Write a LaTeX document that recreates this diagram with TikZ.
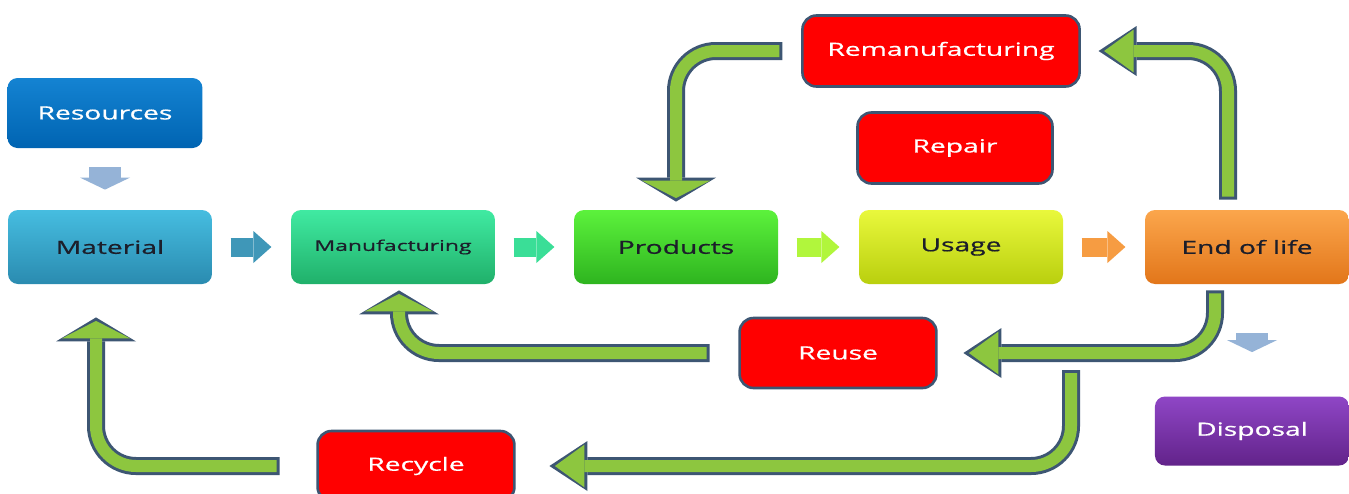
\documentclass[tikz,border=0pt]{standalone}
\usepackage{fontspec}
\setmainfont{Open Sans}[FakeBold=0.6]
\usepackage{tikz}
\usetikzlibrary{arrows.meta}
\usetikzlibrary{positioning,calc}

\definecolor{resourcetop}{HTML}{1483D2}
\definecolor{resourcebot}{HTML}{0064B2}
\definecolor{materialtop}{HTML}{46BDE0}
\definecolor{materialbot}{HTML}{2A8BB0}
\definecolor{manutop}{HTML}{40EAA2}
\definecolor{manubot}{HTML}{20B06A}
\definecolor{prodtop}{HTML}{5CF23C}
\definecolor{prodbot}{HTML}{2EB41F}
\definecolor{usagetop}{HTML}{E9F83C}
\definecolor{usagebot}{HTML}{B9CF0E}
\definecolor{eoltop}{HTML}{FBA64C}
\definecolor{eolbot}{HTML}{E2761A}
\definecolor{disptop}{HTML}{8F46C6}
\definecolor{dispbot}{HTML}{62238A}
\definecolor{loopgreen}{HTML}{8DC63F}
\definecolor{loopedge}{HTML}{3D5673}
\definecolor{dropblue}{HTML}{95B3D7}
\definecolor{labeldark}{HTML}{1C1E2A}

\begin{document}
\begin{tikzpicture}[x=0.5pt, y=-0.5pt,
    stage/.style={rectangle, rounded corners=5pt, xscale=1.55, inner sep=0pt,
      minimum width=65.8pt, minimum height=37pt, text=labeldark,
      font=\fontsize{9.1}{11}\selectfont},
    option/.style={rectangle, rounded corners=7pt, xscale=1.55, inner sep=0pt,
      draw=loopedge, line width=1.3pt, fill=red, text=white,
      minimum width=62.9pt, minimum height=35pt,
      font=\fontsize{9.1}{11}\selectfont},
    flowarrow/.style={line width=9.5pt, shorten <=9pt, shorten >=9.5pt,
      -{Triangle[width=16pt, length=9pt, line width=0pt]}},
    droparrow/.style={draw=dropblue, line width=16pt,
      -{Triangle[width=25pt, length=6pt, line width=0pt]}},
    looparrow/.style={draw=loopgreen, line width=6pt, rounded corners=20pt,
      shorten <=1.5pt},
    loopv/.style={looparrow,
      preaction={draw=loopedge, line width=9pt, shorten <=0pt, shorten >=0pt,
        -{Triangle[width=40pt, length=12pt, line width=0pt]}},
      shorten >=1.75pt, -{Triangle[width=34.2pt, length=8.75pt, line width=0pt]}},
    looph/.style={looparrow,
      preaction={draw=loopedge, line width=9pt, shorten <=0pt, shorten >=0pt,
        -{Triangle[width=25pt, length=19pt, line width=0pt]}},
      shorten >=2.73pt, -{Triangle[width=21.4pt, length=14.77pt, line width=0pt]}}]

  \path[use as bounding box, fill=white] (0,0) rectangle (1349,493);

  % Define nodes
  \node[stage, top color=resourcetop, bottom color=resourcebot, text=white,
    minimum width=62.9pt, minimum height=35pt] (res) at (105,113) {Resources};

  \node[stage, top color=materialtop, bottom color=materialbot] (mat) at (110,247) {Material};
  \node[stage, top color=manutop, bottom color=manubot,
    font=\fontsize{7.4}{9}\selectfont] (manu) at (393,247) {Manufacturing};
  \node[stage, top color=prodtop, bottom color=prodbot] (prod) at (676,247) {Products};
  \node[stage, top color=usagetop, bottom color=usagebot] (usage) at (961,247) {Usage};
  \node[stage, top color=eoltop, bottom color=eolbot] (eol) at (1247,247) {End of life};

  \node[option, minimum width=89.4pt, minimum height=35.5pt] (reman) at (941,51) {Remanufacturing};
  \node[option, minimum height=35.5pt] (repair) at (955,148) {Repair};
  \node[option, minimum width=63.5pt] (reuse) at (838,353) {Reuse};
  \node[option, minimum width=63.5pt] (recycle) at (416,466) {Recycle};

  \node[stage, top color=disptop, bottom color=dispbot, text=white,
    minimum width=62.6pt, minimum height=34.5pt] (disp) at (1252,431) {Disposal};

  \coordinate (split) at (1071,370);

  % main flow
  \draw[droparrow, shorten <=9.5pt, shorten >=10pt] (res.south) -- (res.south |- mat.north);
  \draw[flowarrow, draw=materialbot!90!white] (mat.east) -- (manu.west);
  \draw[flowarrow, draw=manutop!80!manubot] (manu.east) -- (prod.west);
  \draw[flowarrow, draw=prodtop!40!usagetop] (prod.east) -- (usage.west);
  \draw[flowarrow, draw=eoltop!80!eolbot] (usage.east) -- (eol.west);
  \draw[droparrow, shorten <=24.5pt, shorten >=22pt] (disp.north |- eol.south) -- (disp.north);

  % loops back
  \draw[loopv] ([xshift=-9pt]reman.west) -| ([yshift=4pt]prod.north);
  \draw[looph] ([xshift=-9.5pt, yshift=5pt]eol.north) |- ([xshift=8.5pt]reman.east);
  \draw[looph] ([xshift=-16pt, yshift=-3pt]eol.south) |- ([xshift=12.5pt]reuse.east);
  \draw[looph] (split) |- ([xshift=16.5pt]recycle.east);
  \draw[loopv] ([xshift=-14pt]reuse.west) -| ([xshift=3pt, yshift=-3pt]manu.south);
  \draw[loopv] ([xshift=-18pt]recycle.west) -| ([xshift=-7pt, yshift=-16.5pt]mat.south);

\end{tikzpicture}
\end{document}
